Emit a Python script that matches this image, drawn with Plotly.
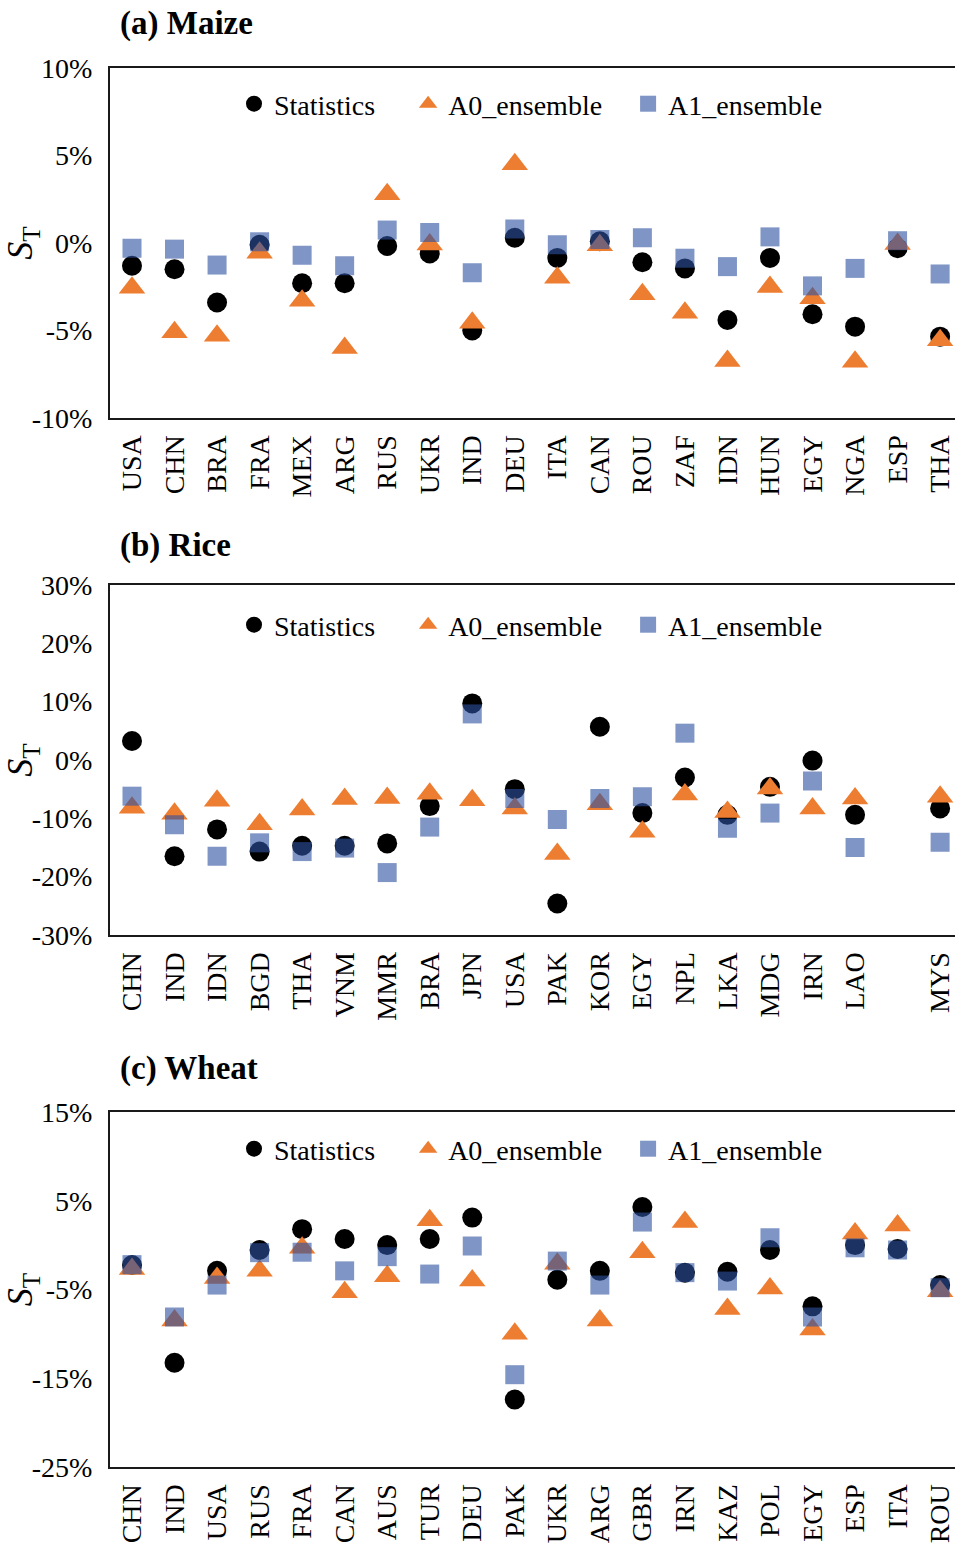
import plotly.graph_objects as go

# ---------------- data ----------------
maize_countries = ["USA", "CHN", "BRA", "FRA", "MEX", "ARG", "RUS", "UKR", "IND", "DEU",
                   "ITA", "CAN", "ROU", "ZAF", "IDN", "HUN", "EGY", "NGA", "ESP", "THA"]
maize_stat = [-1.3, -1.5, -3.4, -0.1, -2.3, -2.3, -0.17, -0.6, -5.0, 0.3,
              -0.85, 0.1, -1.1, -1.45, -4.4, -0.85, -4.07, -4.78, -0.3, -5.35]
maize_a0 = [-2.55, -5.1, -5.3, -0.55, -3.3, -6.0, 2.78, -0.08, -4.55, 4.5,
            -1.98, -0.13, -2.93, -3.98, -6.74, -2.51, -3.16, -6.78, -0.06, -5.56]
maize_a1 = [-0.3, -0.35, -1.26, 0.07, -0.7, -1.3, 0.74, 0.6, -1.7, 0.8,
            -0.1, 0.2, 0.3, -0.87, -1.35, 0.35, -2.45, -1.45, 0.13, -1.77]

rice_countries = ["CHN", "IND", "IDN", "BGD", "THA", "VNM", "MMR", "BRA", "JPN", "USA",
                  "PAK", "KOR", "EGY", "NPL", "LKA", "MDG", "IRN", "LAO", " ", "MYS"]
rice_stat = [3.26, -16.5, -11.9, -15.7, -14.7, -14.7, -14.3, -7.9, 9.7, -5.0,
             -24.6, 5.7, -9.1, -3.0, -9.4, -4.6, -0.1, -9.4, None, -8.3]
rice_a0 = [-8.2, -9.2, -7.0, -11.0, -8.5, -6.7, -6.5, -5.8, -6.9, -8.3,
           -16.1, -7.6, -12.3, -5.9, -8.9, -4.9, -8.3, -6.6, None, -6.3]
rice_a1 = [-6.2, -11.1, -16.5, -14.2, -15.7, -15.1, -19.3, -11.5, 7.9, -6.6,
           -10.2, -6.6, -6.3, 4.6, -11.7, -9.1, -3.6, -15.0, None, -14.1]

wheat_countries = ["CHN", "IND", "USA", "RUS", "FRA", "CAN", "AUS", "TUR", "DEU", "PAK",
                   "UKR", "ARG", "GBR", "IRN", "KAZ", "POL", "EGY", "ESP", "ITA", "ROU"]
wheat_stat = [-2.24, -13.25, -2.9, -0.55, 1.8, 0.69, 0.0, 0.69, 3.1, -17.4,
              -3.9, -2.9, 4.3, -3.1, -3.0, -0.55, -6.9, 0.0, -0.44, -4.5]
wheat_a0 = [-2.7, -8.5, -3.7, -2.9, -0.3, -5.3, -3.5, 2.8, -4.0, -10.0,
            -2.1, -8.5, -0.8, 2.6, -7.2, -4.9, -9.5, 1.3, 2.2, -5.2]
wheat_a1 = [-2.2, -8.1, -4.5, -0.85, -0.8, -2.9, -1.3, -3.26, -0.1, -14.6,
            -1.8, -4.5, 2.6, -3.1, -4.05, 0.83, -8.1, -0.3, -0.55, -4.8]

maize_ticks = [-10, -5, 0, 5, 10]
maize_ticktext = ["-10%", "-5%", "0%", "5%", "10%"]
rice_ticks = [-30, -20, -10, 0, 10, 20, 30]
rice_ticktext = ["-30%", "-20%", "-10%", "0%", "10%", "20%", "30%"]
wheat_ticks = [-25, -15, -5, 5, 15]
wheat_ticktext = ["-25%", "-15%", "-5%", "5%", "15%"]

panel_titles = ["(a) Maize", "(b) Rice", "(c) Wheat"]
series_names = ["Statistics", "A0_ensemble", "A1_ensemble"]

# ---------------- styling ----------------
FONT = "Liberation Serif"
W, H = 955, 1546
BLACK = "#000000"
ORANGE = "#ED7D31"
BLUE = "rgba(46,82,160,0.61)"
FS = 28

panels = [
    dict(countries=maize_countries, stat=maize_stat, a0=maize_a0, a1=maize_a1,
         ticks=maize_ticks, ticktext=maize_ticktext, yr=[-10, 10], top=68, bottom=418,
         title_y=24, legend_y=104),
    dict(countries=rice_countries, stat=rice_stat, a0=rice_a0, a1=rice_a1,
         ticks=rice_ticks, ticktext=rice_ticktext, yr=[-30, 30], top=585, bottom=935,
         title_y=545, legend_y=625),
    dict(countries=wheat_countries, stat=wheat_stat, a0=wheat_a0, a1=wheat_a1,
         ticks=wheat_ticks, ticktext=wheat_ticktext, yr=[-25, 15], top=1112, bottom=1467,
         title_y=1068, legend_y=1149),
]

fig = go.Figure()
layout = dict(
    template="none",
    width=W, height=H,
    margin=dict(l=0, r=0, t=0, b=0, autoexpand=False),
    paper_bgcolor="white", plot_bgcolor="white",
    font=dict(family=FONT, size=FS, color="black"),
    annotations=[],
)

x_left = 110
nb = "\u00a0"
for i, p in enumerate(panels):
    k = "" if i == 0 else str(i + 1)
    xa, ya = "x" + k, "y" + k
    leg = "legend" + k
    xs = list(range(len(p["countries"])))
    fig.add_trace(go.Scatter(x=xs, y=p["stat"], mode="markers", name=series_names[0] + nb * 4,
                             marker=dict(symbol="circle", size=20, color=BLACK),
                             xaxis=xa, yaxis=ya, legend=leg))
    fig.add_trace(go.Scatter(x=xs, y=p["a0"], mode="markers", name=series_names[1] + nb * 3,
                             marker=dict(symbol="triangle-up", size=23, color=ORANGE),
                             xaxis=xa, yaxis=ya, legend=leg))
    fig.add_trace(go.Scatter(x=xs, y=p["a1"], mode="markers", name=series_names[2],
                             marker=dict(symbol="square", size=19, color=BLUE),
                             xaxis=xa, yaxis=ya, legend=leg))
    ydom = [1 - p["bottom"] / H, 1 - p["top"] / H]
    layout["xaxis" + k] = dict(
        domain=[x_left / W, 1], anchor=ya, range=[-0.517, 19.35], automargin=False,
        tickmode="array", tickvals=xs, ticktext=p["countries"], tickangle=-90,
        showgrid=False, zeroline=False, showline=True, mirror=True,
        linecolor="#1a1a1a", linewidth=2, ticks="", ticklabelstandoff=4,
        ticklabeloverflow="allow",
        tickfont=dict(family=FONT, size=FS, color="black"),
    )
    layout["yaxis" + k] = dict(
        domain=ydom, anchor=xa, range=p["yr"], automargin=False,
        tickmode="array", tickvals=p["ticks"], ticktext=p["ticktext"],
        showgrid=False, zeroline=False, showline=True, mirror=False,
        linecolor="#1a1a1a", linewidth=2, ticks="", ticklabelstandoff=10,
        ticklabeloverflow="allow",
        tickfont=dict(family=FONT, size=FS, color="black"),
        title=dict(text="<i>S</i><sub>T</sub>", font=dict(family=FONT, size=36, color="black"),
                   standoff=0),
    )
    layout[leg] = dict(
        orientation="h", x=234 / W, xanchor="left", y=1 - p["legend_y"] / H, yanchor="middle",
        bgcolor="rgba(0,0,0,0)", font=dict(family=FONT, size=FS, color="black"),
        itemsizing="trace",
    )
    layout["annotations"].append(dict(
        text="<b>" + panel_titles[i] + "</b>", xref="paper", yref="paper",
        x=118 / W, y=1 - p["title_y"] / H, xanchor="left", yanchor="middle",
        showarrow=False, font=dict(family=FONT, size=33, color="black"),
    ))

fig.update_layout(**layout)
fig.write_html("out.html")
